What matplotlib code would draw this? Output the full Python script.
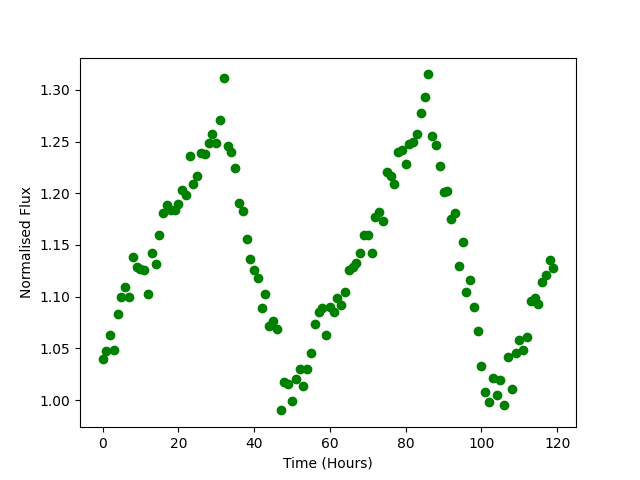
import numpy as np
from matplotlib import pyplot as plt

# heure de chaque mesure
time_hours = list(range(120))

# flux normalisé
flux = [1.040, 1.047, 1.063, 1.048, 1.083, 1.100, 1.109, 1.100, 1.138, 1.129,
        1.127, 1.126, 1.103, 1.142, 1.132, 1.160, 1.181, 1.189, 1.184, 1.184,
        1.190, 1.203, 1.198, 1.236, 1.209, 1.217, 1.239, 1.238, 1.249, 1.257,
        1.249, 1.271, 1.312, 1.246, 1.240, 1.224, 1.191, 1.183, 1.156, 1.136,
        1.126, 1.118, 1.089, 1.103, 1.072, 1.076, 1.069, 0.990, 1.017, 1.016,
        0.999, 1.020, 1.030, 1.014, 1.030, 1.046, 1.074, 1.085, 1.089, 1.063,
        1.090, 1.085, 1.099, 1.092, 1.105, 1.126, 1.129, 1.133, 1.142, 1.160,
        1.160, 1.142, 1.177, 1.182, 1.173, 1.221, 1.217, 1.209, 1.240, 1.242,
        1.228, 1.248, 1.250, 1.257, 1.278, 1.293, 1.315, 1.255, 1.247, 1.226,
        1.201, 1.202, 1.175, 1.181, 1.130, 1.153, 1.105, 1.116, 1.090, 1.067,
        1.033, 1.008, 0.998, 1.021, 1.005, 1.019, 0.995, 1.042, 1.011, 1.046,
        1.058, 1.048, 1.061, 1.096, 1.099, 1.093, 1.114, 1.121, 1.135, 1.128]

fig = plt.figure(figsize=(6.4, 4.8), dpi=100)
plt.plot(time_hours, flux, 'o', color='green')
plt.xlabel('Time (Hours)')
plt.ylabel('Normalised Flux')

plt.savefig('out.png')
